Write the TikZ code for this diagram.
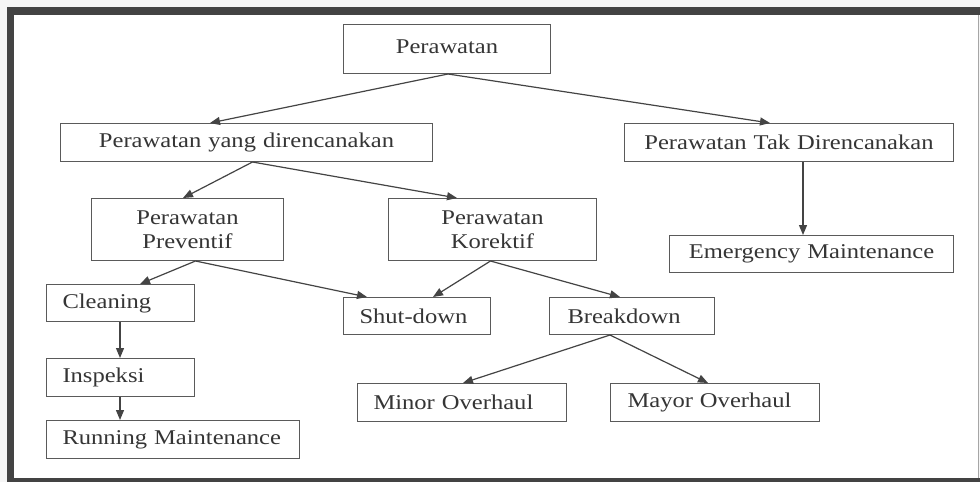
\documentclass[tikz,border=0pt]{standalone}
\usepackage{fontspec}
\setmainfont{Liberation Serif}[FakeStretch=1.17]
\usetikzlibrary{arrows.meta}
\definecolor{framec}{HTML}{434343}
\definecolor{boxc}{HTML}{5A5A5A}
\definecolor{arrc}{HTML}{444444}
\definecolor{txtc}{HTML}{353535}
\tikzset{
  box/.style={draw=boxc, line width=1pt, fill=white, text=txtc, inner ysep=0pt,
    font=\fontsize{21}{23.5}\selectfont, anchor=north west},
  arr/.style={draw=arrc, line width=1.2pt, -{Triangle[length=10pt,width=8pt]}},
}
\newcommand{\bx}[8]{% name, x1, y1, x2, y2, pad, align, text
  \pgfmathsetmacro{\bw}{#4-#2}\pgfmathsetmacro{\bh}{#5-#3}\pgfmathsetmacro{\tw}{#4-#2-2*#6}
  \node[box, minimum width=\bw pt, minimum height=\bh pt, inner xsep=#6pt, text width=\tw pt, align=#7] (#1) at (#2,#3) {#8};}
\begin{document}
\begin{tikzpicture}[x=1pt,y=-1pt]
\useasboundingbox (0,0) rectangle (980,482);
\fill[white!96!black] (0,0) rectangle (980,482);
\fill[white] (14,15) rectangle (978,478);
\fill[framec] (7,7) rectangle (980,15);
\fill[framec] (7,7) rectangle (14,482);
\fill[framec] (7,478) rectangle (980,482);
\draw[gray!70, line width=1pt] (978.5,15) -- (978.5,478);
% boxes
\bx{p0}{343}{24}{550}{73}{4}{center}{\raisebox{5pt}{Perawatan}}
\bx{p1}{60}{123}{432}{161}{4}{center}{Perawatan yang direncanakan}
\bx{p2}{624}{123}{953}{161}{4}{center}{Perawatan Tak Direncanakan}
\bx{p3}{91}{198}{283}{260}{4}{center}{Perawatan\\Preventif}
\bx{p4}{388}{198}{596}{260}{4}{center}{Perawatan\\Korektif}
\bx{p5}{669}{235}{953}{272}{4}{center}{Emergency Maintenance}
\bx{c}{46}{284}{194}{321}{16}{left}{Cleaning}
\bx{i}{46}{358}{194}{396}{16}{left}{Inspeksi}
\bx{r}{46}{420}{299}{458}{16}{left}{Running Maintenance}
\bx{s}{343}{297}{490}{334}{16}{left}{Shut-down}
\bx{b}{549}{297}{714}{334}{18}{left}{Breakdown}
\bx{mi}{357}{383}{566}{421}{16}{left}{Minor Overhaul}
\bx{ma}{610}{383}{819}{421}{17}{left}{Mayor Overhaul}
% connectors
\draw[arr] ([xshift=1pt]p0.south) -- ([xshift=150pt]p1.north west);
\draw[arr] ([xshift=1pt]p0.south) -- ([xshift=146pt]p2.north west);
\draw[arr] ([xshift=6pt]p1.south) -- ([xshift=92pt]p3.north west);
\draw[arr] ([xshift=6pt]p1.south) -- ([xshift=69pt]p4.north west);
\draw[arr] ([xshift=179pt]p2.south west) -- ([xshift=134pt]p5.north west);
\draw[arr] ([xshift=8pt]p3.south) -- ([xshift=94pt]c.north west);
\draw[arr] ([xshift=8pt]p3.south) -- ([xshift=24pt]s.north west);
\draw[arr] ([xshift=-2pt]p4.south) -- ([xshift=90pt]s.north west);
\draw[arr] ([xshift=-2pt]p4.south) -- ([xshift=71pt]b.north west);
\draw[arr] ([xshift=74pt]c.south west) -- ([xshift=74pt]i.north west);
\draw[arr] ([xshift=74pt]i.south west) -- ([xshift=74pt]r.north west);
\draw[arr] ([xshift=61pt]b.south west) -- ([xshift=106pt]mi.north west);
\draw[arr] ([xshift=61pt]b.south west) -- ([xshift=98pt]ma.north west);
\end{tikzpicture}
\end{document}
